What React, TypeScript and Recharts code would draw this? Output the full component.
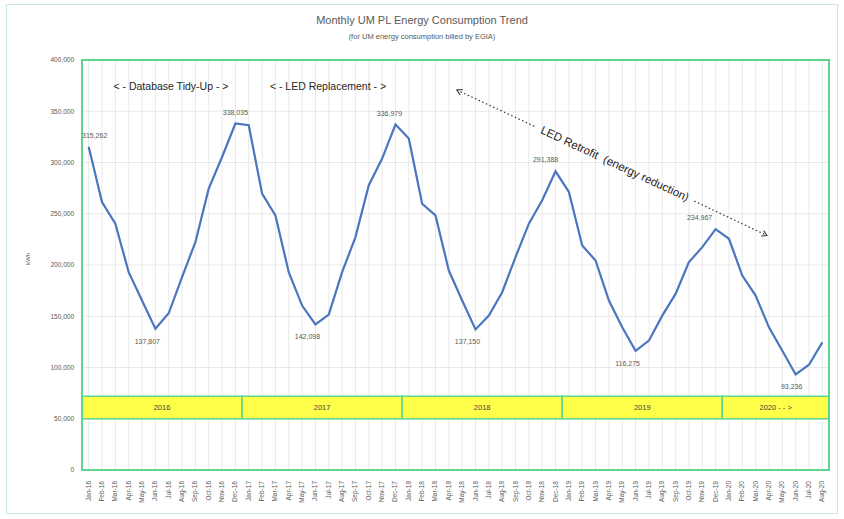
import {
  LineChart,
  Line,
  XAxis,
  YAxis,
  CartesianGrid,
  ReferenceArea,
  ReferenceLine,
  ReferenceDot,
  LabelList,
} from 'recharts';

const months = [
  'Jan-16', 'Feb-16', 'Mar-16', 'Apr-16', 'May-16', 'Jun-16', 'Jul-16', 'Aug-16', 'Sep-16', 'Oct-16', 'Nov-16', 'Dec-16',
  'Jan-17', 'Feb-17', 'Mar-17', 'Apr-17', 'May-17', 'Jun-17', 'Jul-17', 'Aug-17', 'Sep-17', 'Oct-17', 'Nov-17', 'Dec-17',
  'Jan-18', 'Feb-18', 'Mar-18', 'Apr-18', 'May-18', 'Jun-18', 'Jul-18', 'Aug-18', 'Sep-18', 'Oct-18', 'Nov-18', 'Dec-18',
  'Jan-19', 'Feb-19', 'Mar-19', 'Apr-19', 'May-19', 'Jun-19', 'Jul-19', 'Aug-19', 'Sep-19', 'Oct-19', 'Nov-19', 'Dec-19',
  'Jan-20', 'Feb-20', 'Mar-20', 'Apr-20', 'May-20', 'Jun-20', 'Jul-20', 'Aug-20',
];

// kWh per month
const kwh = [
  315262, 261400, 240300, 193000, 165300, 137807, 152900, 188100, 222300, 274500, 305400, 338035,
  336400, 269600, 248400, 193000, 160400, 142098, 151600, 193000, 227200, 277800, 303800, 336979,
  323400, 259800, 248400, 194600, 165300, 137150, 150600, 173400, 207700, 240300, 263100, 291388,
  271200, 219100, 204400, 165300, 139200, 116275, 126200, 150600, 171800, 202800, 217400, 234967,
  225600, 189700, 170200, 139200, 116400, 93236, 102700, 124500,
];

const yTicks = [0, 50000, 100000, 150000, 200000, 250000, 300000, 350000, 400000];

const years = ['2016', '2017', '2018', '2019', '2020 - - >'];
const monthsPerYear = [12, 12, 12, 12, 8];

const peakLabels = ['Jan-16', 'Dec-16', 'Dec-17', 'Dec-18', 'Dec-19'];
const troughLabels = ['Jun-16', 'Jun-17', 'Jun-18', 'Jun-19', 'Jun-20'];

// each month sits in the middle of its slot on the x axis
const data = months.map((m, i) => ({ month: m, pos: i + 0.5, kwh: kwh[i] }));
const xTicks = data.map((d) => d.pos);

const GREEN = '#5fd48b';
const GRAY = '#595959';
const FONT = '"Liberation Sans", Arial, sans-serif';

const labelDx: Record<string, number> = {
  'Jan-16': 6, 'Dec-16': 0, 'Dec-17': -6, 'Dec-18': -10, 'Dec-19': -16,
  'Jun-16': -8, 'Jun-17': -8, 'Jun-18': -8, 'Jun-19': -8, 'Jun-20': -4,
};

const fmt = (v: number) => v.toLocaleString('en-US');

function XTick({ x, y, payload }: any) {
  const label = months[Math.floor(payload.value)];
  return (
    <text
      transform={`translate(${x + 2},${y + 3}) rotate(-90)`}
      textAnchor="end"
      fontSize={6.5}
      fill={GRAY}
      fontFamily={FONT}
    >
      {label}
    </text>
  );
}

function PointLabel({ x, y, value, index }: any) {
  const m = months[index];
  const isPeak = peakLabels.includes(m);
  const isTrough = troughLabels.includes(m);
  if (!isPeak && !isTrough) return null;
  return (
    <text
      x={x + (labelDx[m] ?? 0)}
      y={isPeak ? y - 9 : y + 15}
      textAnchor="middle"
      fontSize={7}
      fill={GRAY}
      fontFamily={FONT}
    >
      {fmt(value)}
    </text>
  );
}

const ANGLE = 25;

export default function App() {
  let start = 0;
  const bands = years.map((label, i) => {
    const b = { label, x1: start, x2: start + monthsPerYear[i] };
    start += monthsPerYear[i];
    return b;
  });

  return (
    <div
      style={{
        position: 'absolute',
        left: 0,
        top: 0,
        width: 844,
        height: 519,
        background: '#fff',
        fontFamily: FONT,
      }}
    >
      <div
        style={{
          position: 'absolute',
          left: 6,
          top: 4,
          width: 830,
          height: 508,
          border: '1px solid #c4ecd4',
        }}
      />
      <div
        style={{
          position: 'absolute',
          top: 14,
          width: 844,
          textAlign: 'center',
          fontSize: 11,
          color: GRAY,
        }}
      >
        Monthly UM PL Energy Consumption Trend
      </div>
      <div
        style={{
          position: 'absolute',
          top: 32,
          width: 844,
          textAlign: 'center',
          fontSize: 7.5,
          color: GRAY,
        }}
      >
        (for UM energy consumption billed by EGIA)
      </div>
      <LineChart
        width={844}
        height={519}
        data={data}
        margin={{ top: 60, right: 15, left: 30, bottom: 9 }}
      >
        <CartesianGrid stroke="#e3e3e3" strokeWidth={0.8} />
        <XAxis
          dataKey="pos"
          type="number"
          domain={[0, 56]}
          allowDataOverflow
          ticks={xTicks}
          interval={0}
          tick={<XTick />}
          tickLine={false}
          axisLine={false}
          height={40}
        />
        <YAxis
          domain={[0, 400000]}
          ticks={yTicks}
          tickFormatter={fmt}
          tick={{ fontSize: 6.5, fill: GRAY, fontFamily: FONT }}
          tickLine={false}
          axisLine={false}
          width={52}
          label={{
            value: 'kWh',
            angle: -90,
            position: 'insideLeft',
            offset: 0,
            dx: -2,
            style: { fontSize: 6, fill: GRAY, fontFamily: FONT },
          }}
        />

        {bands.map((b) => (
          <ReferenceArea
            key={b.label}
            x1={b.x1}
            x2={b.x2}
            y1={50000}
            y2={72000}
            fill="#ffff4a"
            fillOpacity={1}
            stroke={GREEN}
            strokeWidth={1.5}
            ifOverflow="visible"
            label={{
              value: b.label,
              position: 'center',
              style: { fontSize: 7.5, fill: '#404040', fontFamily: FONT },
            }}
          />
        ))}

        <ReferenceArea
          x1={0}
          x2={56}
          y1={0}
          y2={400000}
          fill="none"
          stroke={GREEN}
          strokeWidth={2}
          ifOverflow="visible"
        />

        <ReferenceDot
          x={6.67}
          y={374500}
          r={0}
          ifOverflow="visible"
          shape={(p: any) => (
            <text x={p.cx} y={p.cy + 4} textAnchor="middle" fontSize={10.5} fill="#262626" fontFamily={FONT}>
              {'< - Database Tidy-Up - >'}
            </text>
          )}
        />
        <ReferenceDot
          x={18.44}
          y={374500}
          r={0}
          ifOverflow="visible"
          shape={(p: any) => (
            <text x={p.cx} y={p.cy + 4} textAnchor="middle" fontSize={10.5} fill="#262626" fontFamily={FONT}>
              {'< - LED Replacement - >'}
            </text>
          )}
        />

        <ReferenceLine
          segment={[{ x: 28.1, y: 370700 }, { x: 34.0, y: 334800 }]}
          stroke="#333"
          strokeWidth={1.2}
          strokeDasharray="1.5 2.5"
          ifOverflow="visible"
        />
        <ReferenceLine
          segment={[{ x: 45.9, y: 262300 }, { x: 51.35, y: 228800 }]}
          stroke="#333"
          strokeWidth={1.2}
          strokeDasharray="1.5 2.5"
          ifOverflow="visible"
        />
        <ReferenceDot
          x={28.1}
          y={370700}
          r={0}
          ifOverflow="visible"
          shape={(p: any) => (
            <path
              d="M 5 -3 L 0 0 L 5 3"
              transform={`translate(${p.cx},${p.cy}) rotate(${ANGLE})`}
              fill="none"
              stroke="#333"
              strokeWidth={1}
            />
          )}
        />
        <ReferenceDot
          x={51.35}
          y={228800}
          r={0}
          ifOverflow="visible"
          shape={(p: any) => (
            <path
              d="M -5 -3 L 0 0 L -5 3"
              transform={`translate(${p.cx},${p.cy}) rotate(${ANGLE})`}
              fill="none"
              stroke="#333"
              strokeWidth={1}
            />
          )}
        />
        <ReferenceDot
          x={39.95}
          y={299000}
          r={0}
          ifOverflow="visible"
          shape={(p: any) => (
            <text
              transform={`translate(${p.cx},${p.cy}) rotate(${ANGLE})`}
              y={4}
              textAnchor="middle"
              fontSize={11.5}
              fill="#262626"
              fontFamily={FONT}
              style={{ whiteSpace: 'pre' }}
            >
              LED Retrofit  (energy reduction)
            </text>
          )}
        />

        <Line
          type="linear"
          dataKey="kwh"
          stroke="#4a76c0"
          strokeWidth={2.2}
          dot={false}
          isAnimationActive={false}
        >
          <LabelList dataKey="kwh" content={<PointLabel />} />
        </Line>
      </LineChart>
    </div>
  );
}
